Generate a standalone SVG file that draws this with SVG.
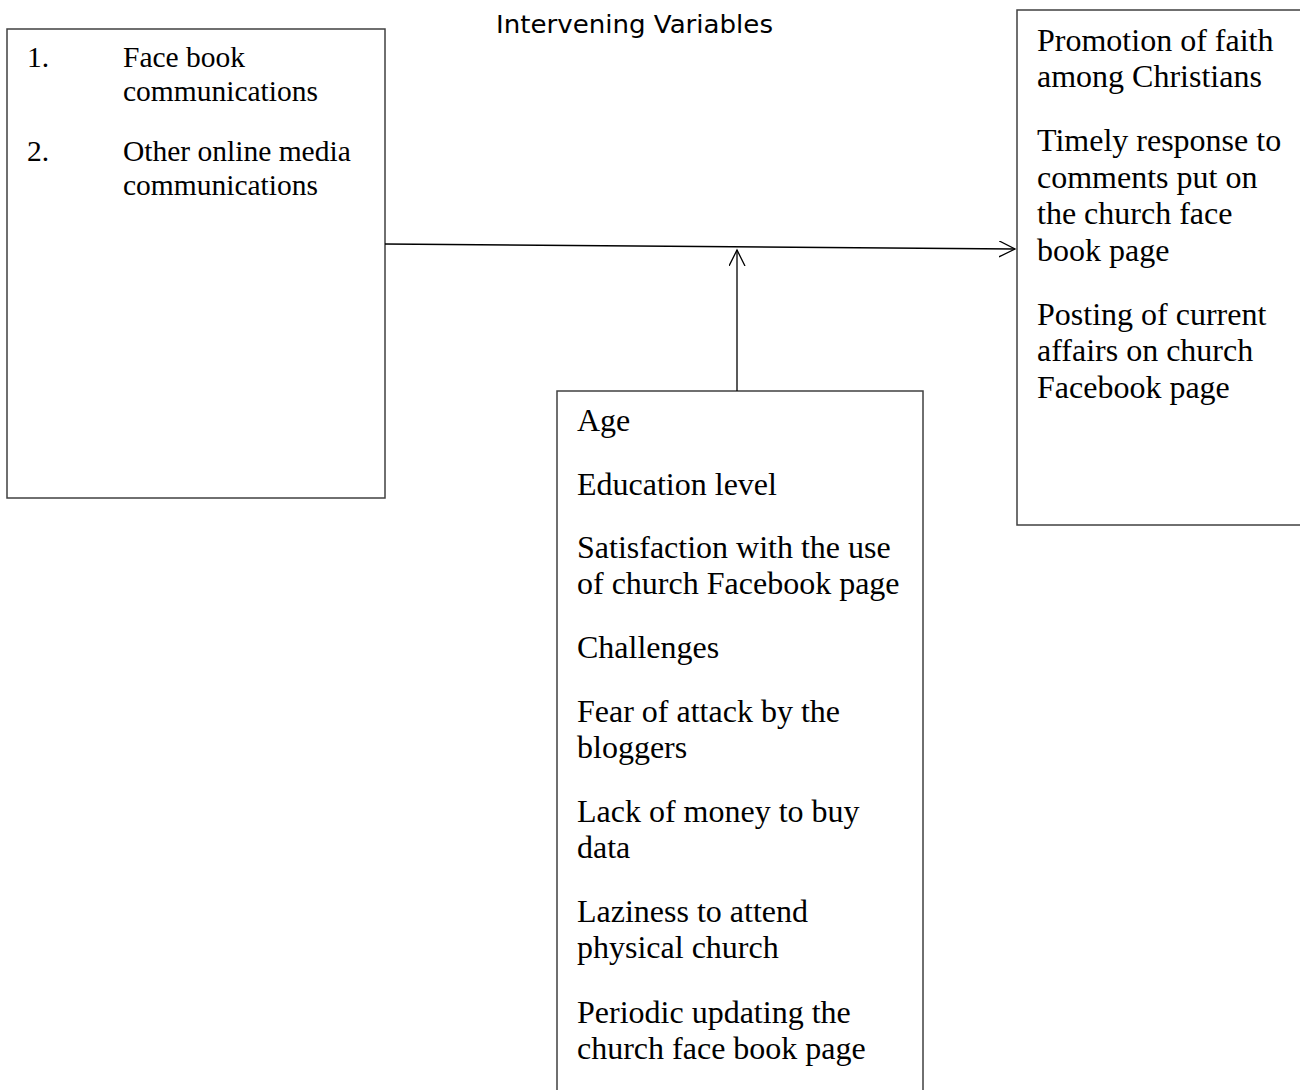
<svg xmlns="http://www.w3.org/2000/svg" width="1300" height="1090" viewBox="0 0 1300 1090">
<style>
.box{fill:#fff;stroke:#404040;stroke-width:1.5}
.t{font-family:"Liberation Serif","Times New Roman",serif;font-size:32px;fill:#000}
.s{font-size:29.5px}
.title{font-family:"DejaVu Sans",Tahoma,sans-serif;font-size:24px;fill:#000}
.conn{stroke:#000;stroke-width:1.3;fill:none}
</style>
<defs>
<marker id="arr" markerWidth="20" markerHeight="20" refX="16" refY="8" orient="auto" markerUnits="userSpaceOnUse">
<path d="M0,0 L16,8 L0,16" fill="none" stroke="#000" stroke-width="1.3"/>
</marker>
</defs>
<rect width="1300" height="1090" fill="#fff"/>
<text class="title" x="496" y="33" textLength="277" lengthAdjust="spacingAndGlyphs">Intervening Variables</text>
<g id="independent">
<rect class="box" x="7" y="29" width="378" height="469"/>
<text class="t s" x="27" y="67">1.</text>
<text class="t s" x="123" y="67">Face book</text>
<text class="t s" x="123" y="101">communications</text>
<text class="t s" x="27" y="161">2.</text>
<text class="t s" x="123" y="161">Other online media</text>
<text class="t s" x="123" y="195">communications</text>
</g>
<g id="dependent">
<rect class="box" x="1017" y="10" width="290" height="515"/>
<text class="t" x="1037" y="51">Promotion of faith</text>
<text class="t" x="1037" y="87">among Christians</text>
<text class="t" x="1037" y="151">Timely response to</text>
<text class="t" x="1037" y="188">comments put on</text>
<text class="t" x="1037" y="224">the church face</text>
<text class="t" x="1037" y="261">book page</text>
<text class="t" x="1037" y="325">Posting of current</text>
<text class="t" x="1037" y="361">affairs on church</text>
<text class="t" x="1037" y="398">Facebook page</text>
</g>
<g id="intervening">
<rect class="box" x="557" y="391" width="366" height="710"/>
<text class="t" x="577" y="431">Age</text>
<text class="t" x="577" y="495">Education level</text>
<text class="t" x="577" y="558">Satisfaction with the use</text>
<text class="t" x="577" y="594">of church Facebook page</text>
<text class="t" x="577" y="658">Challenges</text>
<text class="t" x="577" y="722">Fear of attack by the</text>
<text class="t" x="577" y="758">bloggers</text>
<text class="t" x="577" y="822">Lack of money to buy</text>
<text class="t" x="577" y="858">data</text>
<text class="t" x="577" y="922">Laziness to attend</text>
<text class="t" x="577" y="958">physical church</text>
<text class="t" x="577" y="1023">Periodic updating the</text>
<text class="t" x="577" y="1059">church face book page</text>
</g>
<g id="connectors">
<line class="conn" x1="385" y1="244" x2="1015" y2="249" marker-end="url(#arr)"/>
<line class="conn" x1="737" y1="391" x2="737" y2="250" marker-end="url(#arr)"/>
</g>
</svg>
